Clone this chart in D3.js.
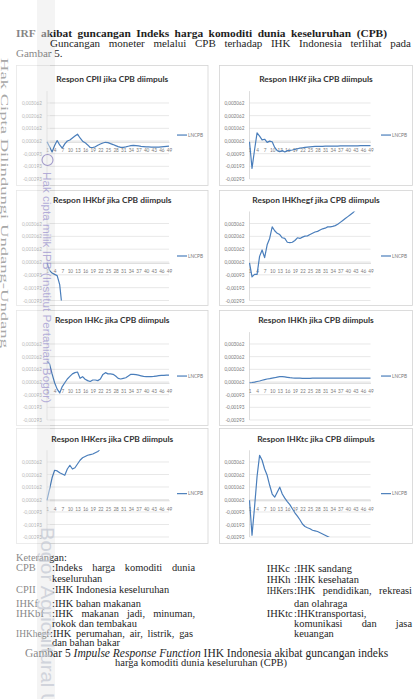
<!DOCTYPE html>
<html><head><meta charset="utf-8">
<script src="https://cdn.jsdelivr.net/npm/d3@7/dist/d3.min.js"></script>
<style>html,body{margin:0;padding:0;background:#fff}svg{display:block}</style>
</head><body>
<svg id="page" width="417" height="699" xmlns="http://www.w3.org/2000/svg"></svg>
<script>
// ---------------- data ----------------
const periods = [1,2,3,4,5,6,7,8,9,10,11,12,13,14,15,16,17,18,19,20,21,22,23,24,25,26,27,28,29,30,31,32,33,34,35,36,37,38,39,40,41,42,43,44,45,46,47,48,49];
const xTickLabels = [1,4,7,10,13,16,19,22,25,28,31,34,37,40,43,46,49];
const yTickValues = [-0.002938,-0.001938,-0.000938,0.000062,0.001062,0.002062,0.003062];
const yTickLabels = ["-0,00293","-0,00193","-0,00093","0,000062","0,001062","0,002062","0,003062"];
const yMin = -0.002938, yMax = 0.004;
const seriesName = "LNCPB";
const titles = ["Respon CPII jika CPB diimpuls","Respon IHKf jika CPB diimpuls","Respon IHKbf jika CPB diimpuls","Respon IHKhegf jika CPB diimpuls","Respon IHKc jika CPB diimpuls","Respon IHKh jika CPB diimpuls","Respon IHKers jika CPB diimpuls","Respon IHKtc jika CPB diimpuls"];

const cpii = [0,-0.0004,-0.0008,-0.0003,0.0001,-0.00025,-0.0005,-0.00017,0.00006,0.00014,0.0003,0.00045,0.0006,0.0003,0.00005,-0.00007,-0.00025,-0.00045,-0.00045,-0.0004,-0.00028,-0.00018,-0.0001,-0.00004,-0.00007,-0.00015,-0.00022,-0.0003,-0.00038,-0.00044,-0.00044,-0.0004,-0.00035,-0.0003,-0.00028,-0.0003,-0.00033,-0.00036,-0.00038,-0.0004,-0.00041,-0.00042,-0.00043,-0.00043,-0.00042,-0.0004,-0.00038,-0.00036,-0.00034];
const ihkf = [0,-0.0021,-0.00065,0.0007,0.00045,0.00015,0.0002,-0.00005,0.00005,0,-0.00045,-0.0007,-0.00078,-0.0007,-0.0008,-0.0007,-0.00068,-0.00065,-0.0006,-0.00055,-0.0005,-0.00047,-0.00044,-0.00042,-0.0004,-0.00038,-0.00037,-0.00037,-0.00036,-0.00036,-0.00035,-0.00035,-0.00035,-0.00034,-0.00034,-0.00034,-0.00033,-0.00033,-0.00033,-0.00033,-0.00032,-0.00032,-0.00032,-0.00032,-0.00031,-0.00031,-0.00031,-0.0003,-0.0003];
const ihkbf = [0,-0.0006,-0.0008,-0.0009,-0.001,-0.0017,-0.0036,-0.005];
const ihkhegf = [0,-0.0011,-0.0009,-0.0009,0.0005,0.001,0.0004,0.0014,0.0019,0.0028,0.0025,0.0023,0.0022,0.00195,0.0019,0.0016,0.00157,0.0016,0.00174,0.00195,0.0019,0.002,0.00208,0.0021,0.0022,0.0023,0.0024,0.00245,0.00256,0.00265,0.0027,0.0028,0.0028,0.00284,0.0029,0.003,0.00315,0.0033,0.00345,0.0036,0.00375,0.0039,0.0041];
const ihkc = [0.0017,0.0015,0.0007,0,-0.0005,-0.0008,-0.0003,0,0.0003,0.0005,0.0007,0.0008,0.00085,0.00035,0.00048,0.00028,0.00017,0.0001,0.00022,0.00022,0.00017,0.0003,0.00066,0.0008,0.0007,0.0007,0.00067,0.00053,0.00035,0.0003,0.00035,0.0004,0.00053,0.00067,0.00067,0.00064,0.0006,0.00055,0.0005,0.00048,0.00048,0.00048,0.0005,0.00053,0.00056,0.00058,0.00058,0.0006,0.0006];
const ihkh = [0,0.00002,0.00005,0.0001,0.00014,0.0002,0.00025,0.0003,0.00033,0.00037,0.0004,0.00045,0.00048,0.00048,0.00046,0.00043,0.0004,0.00038,0.00037,0.00036,0.00036,0.00035,0.00035,0.00035,0.00035,0.00036,0.00036,0.00036,0.00036,0.00036,0.00036,0.00036,0.00036,0.00036,0.00036,0.00036,0.00036,0.00036,0.00036,0.00036,0.00036,0.00036,0.00036,0.00036,0.00036,0.00036,0.00036,0.00036,0.00036];
const ihkers = [0,0.0009,0.0018,0.0024,0.00235,0.0022,0.0021,0.002,0.0025,0.0028,0.0025,0.0026,0.0029,0.0032,0.0034,0.0035,0.0036,0.00365,0.0037,0.0038,0.0039,0.0041,0.0043];
const ihktc = [0,-0.0028,-0.00055,0.0019,0.0036,0.0032,0.0025,0.002,0.0012,0.0005,0.00025,0.00065,0.00105,0.0005,0.00017,-0.0001,-0.00035,-0.00068,-0.001,-0.00127,-0.00156,-0.0019,-0.0021,-0.0022,-0.00228,-0.0024,-0.00245,-0.0025,-0.0026,-0.0027,-0.0028,-0.0029,-0.003,-0.0031];

const seriesList = [cpii, ihkf, ihkbf, ihkhegf, ihkc, ihkh, ihkers, ihktc];

// ---------------- layout ----------------
const svg = d3.select("#page");
const serif = "'Liberation Serif','Times New Roman',serif";
const sans = "Lato,'Liberation Sans',Arial,sans-serif";
const ink = "#1e1e1e";
const lineColor = "#4a7ebb";

const cols = [
  {x0:16, x1:207.5, pl:47, pr:169, leg:177},
  {x0:219, x1:412, pl:249.5, pr:370.5, leg:381}
];
const rows = [
  {y0:65, y1:185, base:179, unit:12.67, title:82},
  {y0:190, y1:305, base:300.5, unit:12.83, title:203},
  {y0:310, y1:425, base:420, unit:12.67, title:323},
  {y0:428, y1:543, base:537, unit:12.5, title:442}
];

svg.append("rect").attr("width",417).attr("height",699).attr("fill","#fff");

seriesList.forEach((vals, i) => {
  const c = cols[i % 2], r = rows[Math.floor(i / 2)];
  const g = svg.append("g");
  g.append("rect").attr("x", c.x0 + 0.5).attr("y", r.y0 + 0.5)
    .attr("width", c.x1 - c.x0).attr("height", r.y1 - r.y0)
    .attr("fill", "#fff").attr("stroke", "#d4d4d4").attr("stroke-width", 0.8);

  const x = d3.scalePoint().domain(periods).range([c.pl, c.pr]);
  const y = d3.scaleLinear().domain([yMin, yMax])
    .range([r.base, r.base - (yMax - yMin) * 1000 * r.unit]);

  g.selectAll("line.grid").data(yTickValues).join("line")
    .attr("x1", c.pl).attr("x2", c.pr)
    .attr("y1", d => y(d)).attr("y2", d => y(d))
    .attr("stroke", "#d9d9d9").attr("stroke-width", 0.6);

  const ya = g.append("g").attr("transform", `translate(${c.pl},0)`)
    .call(d3.axisLeft(y).tickValues(yTickValues)
      .tickFormat((d, k) => yTickLabels[k]).tickSize(0).tickPadding(5));
  ya.select(".domain").attr("stroke", "#c6c6c6").attr("stroke-width", 0.6)
    .attr("d", `M0,${y(yMin)}V${y(yMax)}`);
  ya.selectAll("text").attr("font-family", sans).attr("font-size", 4.7)
    .attr("fill", "#7a7a7a");

  const xa = g.append("g").attr("transform", `translate(0,${y(0)})`)
    .call(d3.axisBottom(x).tickValues(xTickLabels).tickSize(0).tickSizeOuter(0).tickPadding(7));
  xa.select(".domain").attr("stroke", "#c6c6c6").attr("stroke-width", 0.7);
  xa.selectAll("text").attr("font-family", sans).attr("font-size", 4.7)
    .attr("fill", "#7a7a7a");

  const cid = "clip" + i;
  g.append("clipPath").attr("id", cid).append("rect")
    .attr("x", c.pl - 1).attr("y", y(yMax)).attr("width", c.pr - c.pl + 2)
    .attr("height", y(yMin) - y(yMax));

  const line = d3.line().x((d, k) => x(periods[k])).y(d => y(d));
  g.append("path").datum(vals).attr("clip-path", `url(#${cid})`)
    .attr("d", line).attr("fill", "none").attr("stroke", lineColor)
    .attr("stroke-width", 1.2).attr("stroke-linejoin", "round");

  const ly = (y(yMin) + y(yMax)) / 2;
  g.append("line").attr("x1", c.leg).attr("x2", c.leg + 10).attr("y1", ly).attr("y2", ly)
    .attr("stroke", lineColor).attr("stroke-width", 1.2);
  g.append("text").attr("x", c.leg + 11).attr("y", ly + 1.6).text(seriesName)
    .attr("font-family", sans).attr("font-size", 4.7).attr("fill", "#7a7a7a");

  g.append("text").attr("x", (c.x0 + c.x1) / 2 + 0.5).attr("y", r.title)
    .attr("text-anchor", "middle").attr("font-family", sans).attr("font-weight", "bold")
    .attr("font-size", 8.4).attr("fill", "#333").text(titles[i]);
});

// ---------------- body text ----------------
const T = svg.append("g").attr("font-family", serif).attr("fill", ink);

function word(txt, x, y, size, weight, len) {
  const t = T.append("text").attr("x", x).attr("y", y).attr("font-size", size || 10.4)
    .attr("font-weight", weight || "normal").text(txt);
  if (len) t.attr("textLength", len).attr("lengthAdjust", "spacingAndGlyphs");
  return t;
}
function justify(words, x0, x1, y, size, weight) {
  const ts = words.map(w => word(w, 0, y, size, weight));
  const ws = ts.map(t => t.node().getComputedTextLength());
  const gap = (x1 - x0 - d3.sum(ws)) / (words.length - 1);
  let xx = x0;
  ts.forEach((t, k) => { t.attr("x", xx); xx += ws[k] + gap; });
}
function fitLine(build, x0, x1, y, size, weight) {
  const t = T.append("text").attr("x", x0).attr("y", y).attr("font-size", size)
    .attr("font-weight", weight || "normal");
  build(t);
  const w = t.node().getComputedTextLength();
  t.attr("font-size", size * (x1 - x0) / w);
}

justify("IRF akibat guncangan Indeks harga komoditi dunia keseluruhan (CPB)".split(" "), 16, 387, 37, 11.4, "bold");
justify("Guncangan moneter melalui CPB terhadap IHK Indonesia terlihat pada".split(" "), 50, 411, 47.3, 11);
word("Gambar 5.", 16, 57, 11);

word("Keterangan:", 16, 560.5);
word("CPB", 16, 571.2); justify([":Indeks","harga","komoditi","dunia"], 52, 195, 571.2);
word("keseluruhan", 52, 581.8);
word("CPII", 16, 593); word(":IHK Indonesia keseluruhan", 52, 593);
word("IHKf", 16, 607.3); word(":IHK bahan makanan", 52, 607.3);
word("IHKbf", 16, 617.2, null, null, 28); justify([":IHK","makanan","jadi,","minuman,"], 52, 195, 617.2);
word("rokok dan tembakau", 52, 626.8);
word("IHKhegf", 16, 636.8, null, null, 33.5); justify([":IHK","perumahan,","air,","listrik,","gas"], 50, 193, 636.8);
word("dan bahan bakar", 52, 645.8);

word("IHKc", 266.7, 571.8); word(":IHK sandang", 294, 571.8);
word("IHKh", 266.7, 582.5); word(":IHK kesehatan", 294, 582.5);
word("IHKers", 266.7, 593.5, null, null, 26.5); justify([":IHK","pendidikan,","rekreasi"], 294, 412, 593.5);
word("dan olahraga", 294, 606.8);
word("IHKtc", 266.7, 616.8); word(":IHKtransportasi,", 294, 616.8);
justify(["komunikasi","dan","jasa"], 294, 412, 626.8);
word("keuangan", 294, 636.8);

fitLine(t => {
  t.append("tspan").text("Gambar 5 ");
  t.append("tspan").attr("font-style", "italic").text("Impulse Response Function");
  t.append("tspan").text(" IHK Indonesia akibat guncangan indeks");
}, 25, 388, 656.5, 10.6);
fitLine(t => t.text("harga komoditi dunia keseluruhan (CPB)"), 115, 287, 665.8, 10.6);

// ---------------- watermark ----------------
const W = svg.append("g");
W.append("rect").attr("x", 0).attr("y", 0).attr("width", 50).attr("height", 699)
  .attr("fill", "#fff").attr("opacity", 0.45);
W.append("rect").attr("x", 37).attr("y", 0).attr("width", 18).attr("height", 699)
  .attr("fill", "#000").attr("opacity", 0.045);
W.append("text").attr("transform", "translate(0.5,58) rotate(90)")
  .attr("font-family", serif).attr("font-size", 9.5).attr("fill", "#a8a8a8")
  .attr("textLength", 290).attr("lengthAdjust", "spacingAndGlyphs")
  .text("Hak Cipta Dilindungi Undang-Undang");
W.append("circle").attr("cx", 47.5).attr("cy", 160).attr("r", 5.5)
  .attr("fill", "none").attr("stroke", "#7e74b8").attr("stroke-width", 1.1).attr("opacity", 0.7);
W.append("text").attr("transform", "translate(43,172) rotate(90)")
  .attr("font-family", "'Liberation Sans',Arial,sans-serif").attr("font-size", 11)
  .attr("fill", "#8a80c8").attr("opacity", 0.6)
  .attr("textLength", 231).attr("lengthAdjust", "spacingAndGlyphs")
  .text("Hak cipta milik IPB (Institut Pertanian Bogor)");
W.append("text").attr("transform", "translate(41,527) rotate(90)")
  .attr("font-family", "'Liberation Sans',Arial,sans-serif").attr("font-size", 18)
  .attr("fill", "#c3c7d2").attr("opacity", 0.7)
  .attr("textLength", 255).attr("lengthAdjust", "spacingAndGlyphs")
  .text("Bogor Agricultural University");
</script>
</body></html>
